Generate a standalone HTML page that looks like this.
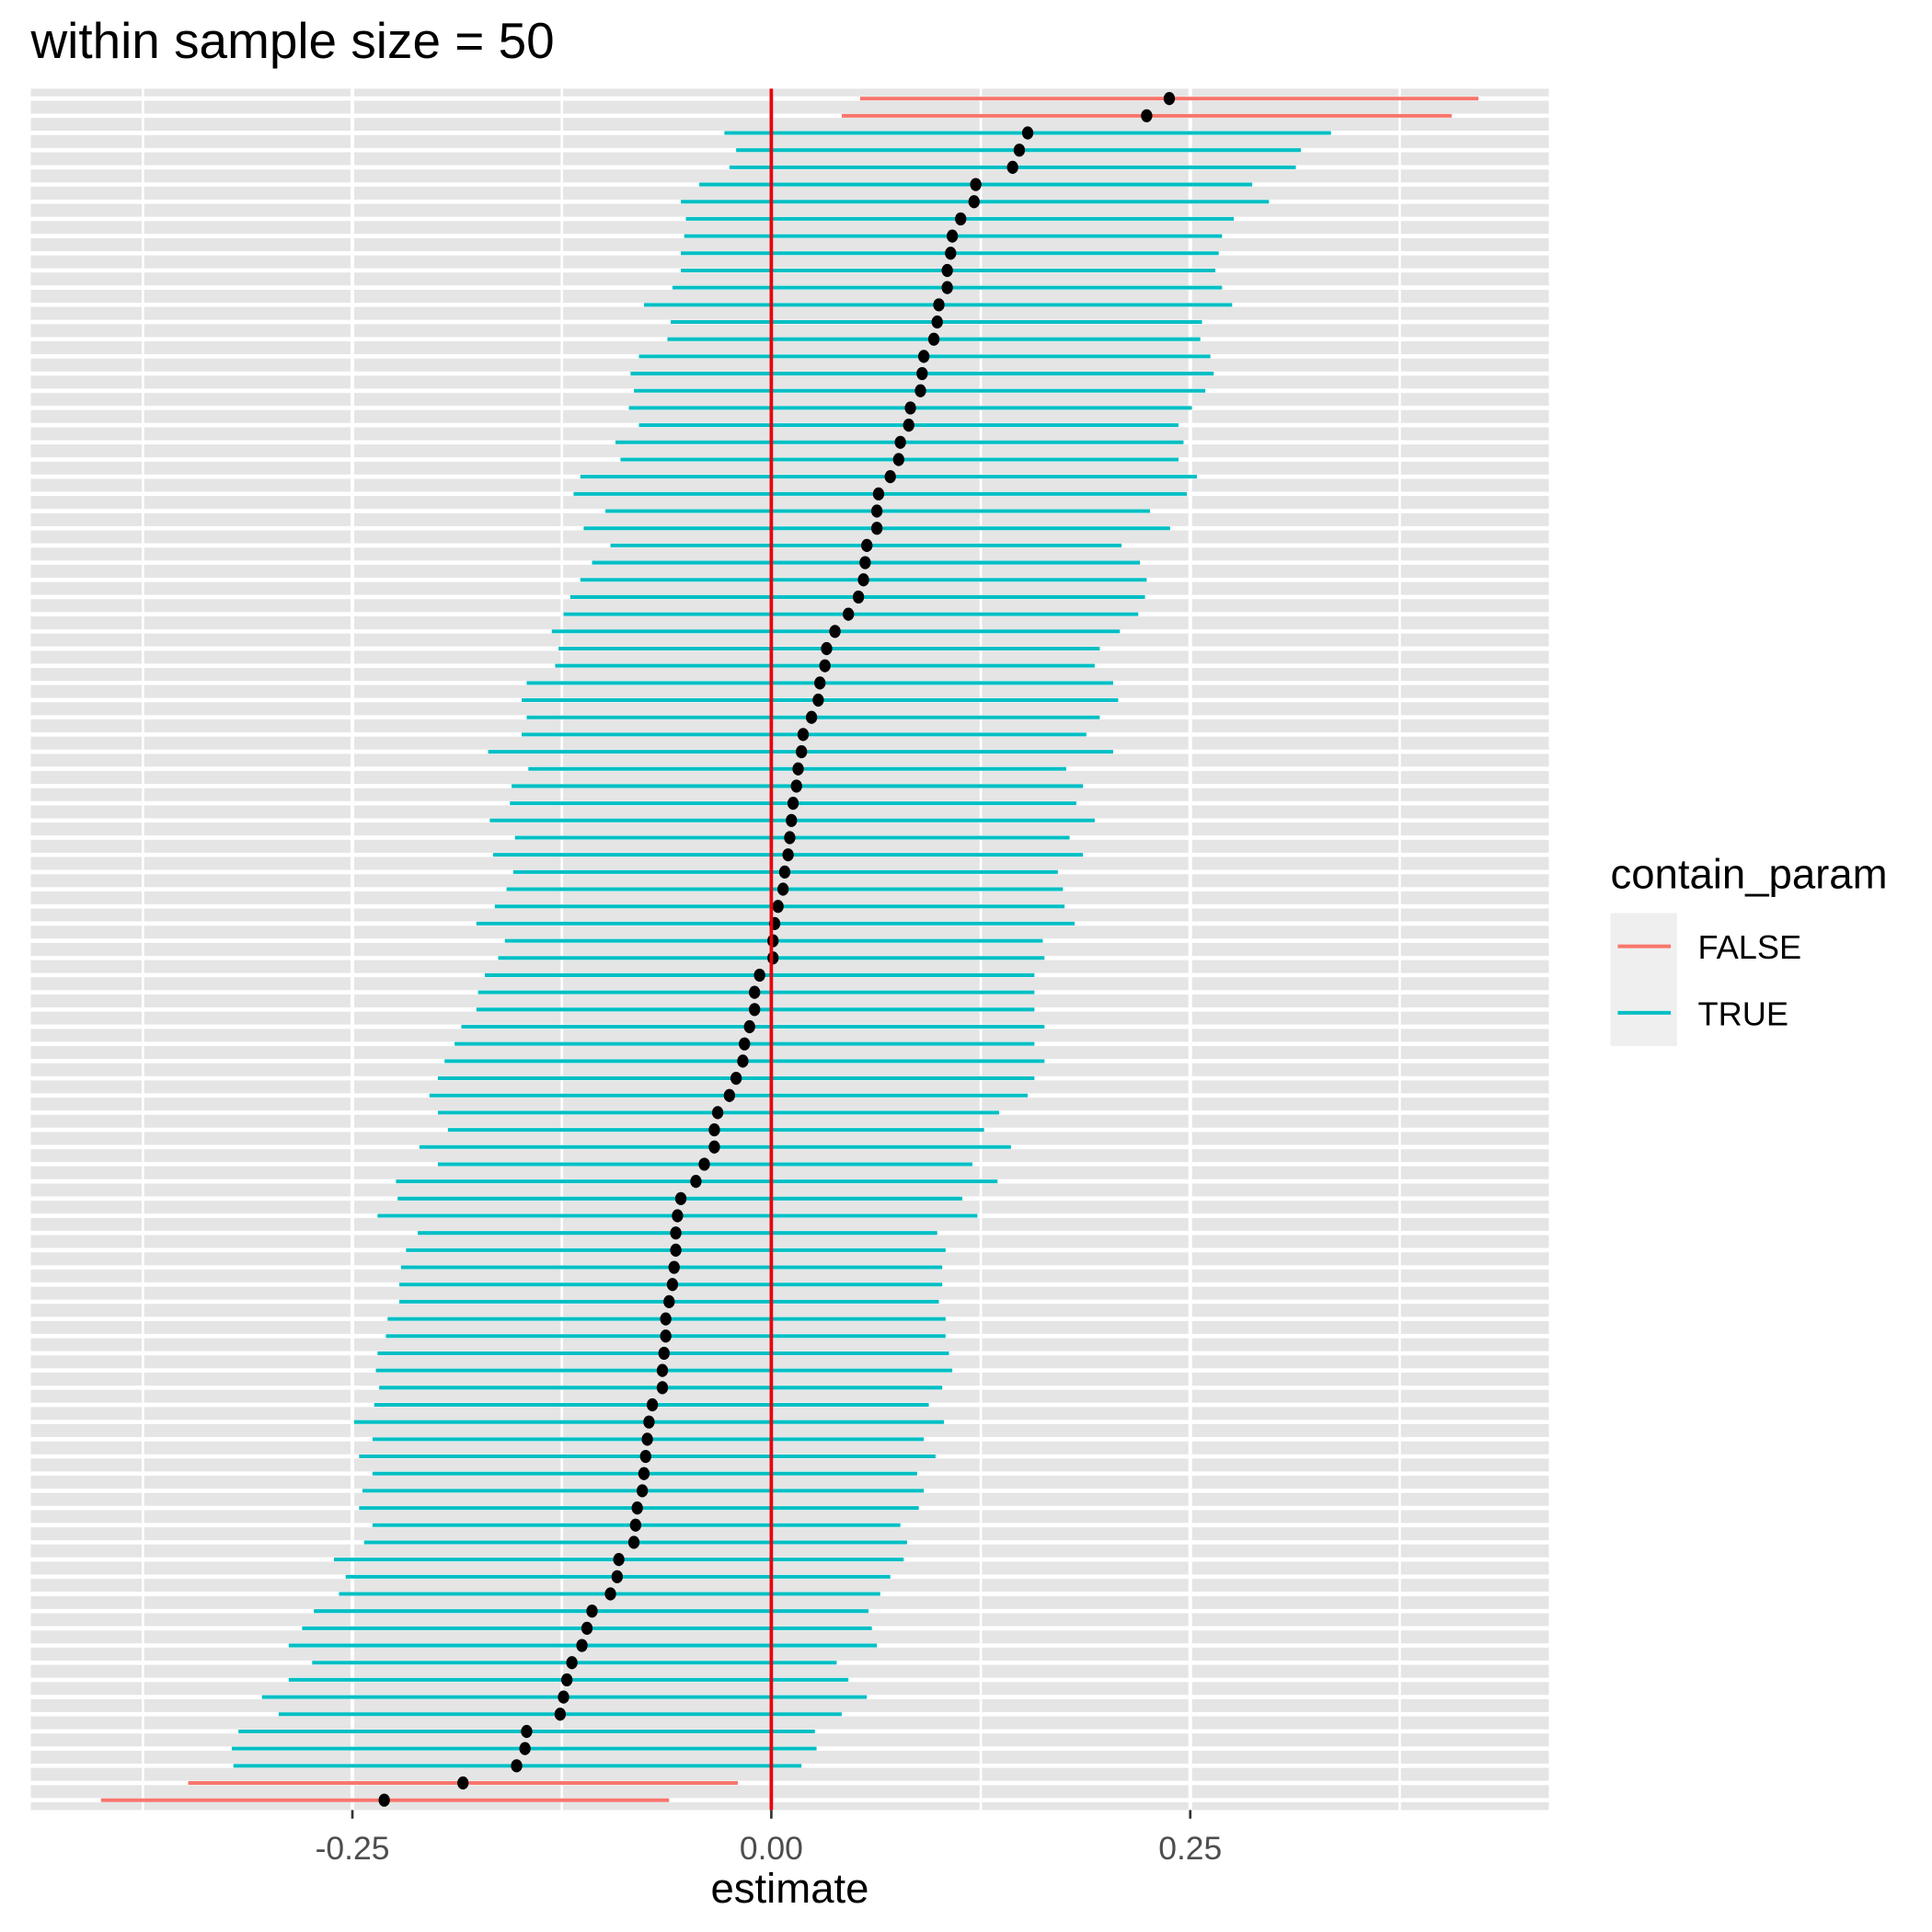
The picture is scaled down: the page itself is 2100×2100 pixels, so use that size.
<!DOCTYPE html>
<html><head><meta charset="utf-8"><style>html,body{margin:0;padding:0;background:#fff}svg{display:block}text{font-family:"Liberation Sans",Arial,sans-serif}</style></head>
<body>
<svg id="chart" width="2100" height="2100" viewBox="0 0 1568 1568" xmlns="http://www.w3.org/2000/svg">
<text x="25" y="47" font-size="41" fill="#000">within sample size = 50</text>
<rect x="25" y="72" width="1232" height="1397" fill="#E5E5E5"/>
<g id="grid"></g>
<g id="bars"></g>
<g id="dots"></g>
<g id="vline"></g>
<g id="xaxis"></g>
<text x="641" y="1544" font-size="34" text-anchor="middle" fill="#000">estimate</text>
<g>
<text x="1307" y="721" font-size="34" fill="#000">contain_param</text>
<rect x="1307" y="741" width="54" height="108" fill="#EFEFEF"/>
<g>
<line x1="1313" y1="768" x2="1356" y2="768" stroke="#F8766D" stroke-width="3"/>
<text x="1378" y="778" font-size="27" fill="#000">FALSE</text></g>
<g>
<line x1="1313" y1="822" x2="1356" y2="822" stroke="#00BFC4" stroke-width="3"/>
<text x="1378" y="832" font-size="27" fill="#000">TRUE</text></g>
</g>
</svg>
<script>
const estimates = [0.2375,0.224,0.153,0.148,0.144,0.122,0.121,0.113,0.108,0.107,0.105,0.105,0.100,0.099,0.097,0.091,0.090,0.089,0.083,0.082,0.077,0.076,0.071,0.064,0.063,0.063,0.057,0.056,0.055,0.052,0.046,0.038,0.033,0.032,0.029,0.028,0.024,0.019,0.018,0.016,0.015,0.013,0.012,0.011,0.010,0.008,0.007,0.004,0.002,0.001,0.001,-0.007,-0.010,-0.010,-0.013,-0.016,-0.017,-0.021,-0.025,-0.032,-0.034,-0.034,-0.040,-0.045,-0.054,-0.056,-0.057,-0.057,-0.058,-0.059,-0.061,-0.063,-0.063,-0.064,-0.065,-0.065,-0.071,-0.073,-0.074,-0.075,-0.076,-0.077,-0.080,-0.081,-0.082,-0.091,-0.092,-0.096,-0.107,-0.110,-0.113,-0.119,-0.122,-0.124,-0.126,-0.146,-0.147,-0.152,-0.184,-0.231];
const lowers = [0.053,0.042,-0.028,-0.021,-0.025,-0.043,-0.054,-0.051,-0.052,-0.054,-0.054,-0.059,-0.076,-0.060,-0.062,-0.079,-0.084,-0.082,-0.085,-0.079,-0.093,-0.090,-0.114,-0.118,-0.099,-0.112,-0.096,-0.107,-0.114,-0.120,-0.124,-0.131,-0.127,-0.129,-0.146,-0.149,-0.146,-0.149,-0.169,-0.145,-0.155,-0.156,-0.168,-0.153,-0.166,-0.154,-0.158,-0.165,-0.176,-0.159,-0.163,-0.171,-0.175,-0.176,-0.185,-0.189,-0.195,-0.199,-0.204,-0.199,-0.193,-0.210,-0.199,-0.224,-0.223,-0.235,-0.211,-0.218,-0.221,-0.222,-0.222,-0.229,-0.230,-0.235,-0.236,-0.234,-0.237,-0.249,-0.238,-0.246,-0.238,-0.244,-0.246,-0.238,-0.243,-0.261,-0.254,-0.258,-0.273,-0.280,-0.288,-0.274,-0.288,-0.304,-0.294,-0.318,-0.322,-0.321,-0.348,-0.400];
const uppers = [0.422,0.406,0.334,0.316,0.313,0.287,0.297,0.276,0.269,0.267,0.265,0.269,0.275,0.257,0.256,0.262,0.264,0.259,0.251,0.243,0.246,0.243,0.254,0.248,0.226,0.238,0.209,0.220,0.224,0.223,0.219,0.208,0.196,0.193,0.204,0.207,0.196,0.188,0.204,0.176,0.186,0.182,0.193,0.178,0.186,0.171,0.174,0.175,0.181,0.162,0.163,0.157,0.157,0.157,0.163,0.157,0.163,0.157,0.153,0.136,0.127,0.143,0.120,0.135,0.114,0.123,0.099,0.104,0.102,0.102,0.100,0.104,0.104,0.106,0.108,0.102,0.094,0.103,0.091,0.098,0.087,0.091,0.088,0.077,0.081,0.079,0.071,0.065,0.058,0.060,0.063,0.039,0.046,0.057,0.042,0.026,0.027,0.018,-0.020,-0.061];
const xTicks = [-0.25, 0, 0.25];
const xTickLabels = ["-0.25", "0.00", "0.25"];
const xMinor = [-0.375, -0.125, 0.125, 0.375];

const NS = "http://www.w3.org/2000/svg";
const xScale = v => 626 + v * 1360;
const yScale = i => 80 + i * (1381 / (estimates.length - 1));
function mk(parent, tag, attrs) {
  const e = document.createElementNS(NS, tag);
  for (const k in attrs) e.setAttribute(k, attrs[k]);
  parent.appendChild(e);
  return e;
}
const grid = document.getElementById('grid');
xMinor.forEach(v => {
  const l = mk(grid, 'line', {x1: xScale(v), x2: xScale(v), y1: 72, y2: 1469, stroke: '#fff', 'stroke-width': 2});
  
  
});
estimates.forEach((_, i) => {
  const l = mk(grid, 'line', {x1: 25, x2: 1257, y1: yScale(i), y2: yScale(i), stroke: '#fff', 'stroke-width': 3.5});
  
  
});
xTicks.forEach(v => {
  const l = mk(grid, 'line', {x1: xScale(v), x2: xScale(v), y1: 72, y2: 1469, stroke: '#fff', 'stroke-width': 3});
  
  
});
const bars = document.getElementById('bars');
const dots = document.getElementById('dots');
estimates.forEach((e, i) => {
  const contains = lowers[i] <= 0 && uppers[i] >= 0;
  const b = mk(bars, 'line', {x1: xScale(lowers[i]), x2: xScale(uppers[i]), y1: yScale(i), y2: yScale(i), stroke: contains ? '#00BFC4' : '#F8766D', 'stroke-width': 3});
  
  
  const d = mk(dots, 'ellipse', {cx: xScale(e), cy: yScale(i), rx: 4.6, ry: 5.3, fill: '#000'});
  
  
});
const vl = mk(document.getElementById('vline'), 'line', {x1: xScale(0), x2: xScale(0), y1: 72, y2: 1469, stroke: '#E8000B', 'stroke-width': 2.8});


const xa = document.getElementById('xaxis');
xTicks.forEach((v, i) => {
  const t = mk(xa, 'line', {x1: xScale(v), x2: xScale(v), y1: 1469, y2: 1476, stroke: '#333', 'stroke-width': 2});
  
  
  const lb = mk(xa, 'text', {x: xScale(v), y: 1509, 'font-size': 26.5, 'text-anchor': 'middle', fill: '#4D4D4D'});
  lb.textContent = xTickLabels[i];
  
  
});
</script>
</body></html>
